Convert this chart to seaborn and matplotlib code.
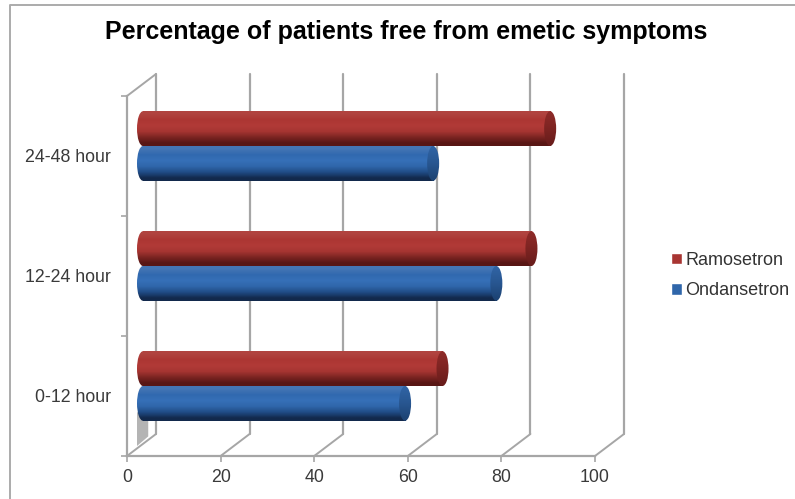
# emetic_bars.py
import numpy as np
import pandas as pd
import matplotlib
matplotlib.use('Agg')
import matplotlib.pyplot as plt
import seaborn as sns
from matplotlib.colors import LinearSegmentedColormap, to_hex
from matplotlib.lines import Line2D
from matplotlib.patches import Ellipse, Polygon
from matplotlib.transforms import ScaledTranslation

periods = ["24-48 hour", "12-24 hour", "0-12 hour"]
ramosetron = [87, 83, 64]
ondansetron = [62, 75.5, 56]
xticks = [0, 20, 40, 60, 80, 100]

df = pd.DataFrame({
    "period": periods * 2,
    "drug": ["Ramosetron"] * 3 + ["Ondansetron"] * 3,
    "pct": ramosetron + ondansetron,
})

sns.set_theme(style="white")
plt.rcParams['font.family'] = ['Liberation Sans', 'DejaVu Sans']

W, H = 795, 499
fig = plt.figure(figsize=(W / 100, H / 100), dpi=100)
ax = fig.add_axes([127 / W, (H - 456) / H, 468 / W, 360 / H])
ax.patch.set_alpha(0)

sns.barplot(data=df, y="period", x="pct", hue="drug", order=periods,
            hue_order=["Ramosetron", "Ondansetron"],
            palette={"Ramosetron": "#a83532", "Ondansetron": "#2f66aa"},
            width=0.58, saturation=1, errorbar=None, ax=ax, zorder=3)
bars = [p for p in ax.patches if p.get_width() > 0]

ax.set_xlim(0, 100)
ax.set_ylim(2.5, -0.5)
ax.set_xlabel("")
ax.set_ylabel("")

def shift(dx, dy):
    return ax.transData + ScaledTranslation(dx / 100, dy / 100, fig.dpi_scale_trans)

line_col = "#a6a6a6"
back = shift(29, 22)
bar_shift = shift(16, 10)

# back wall and floor lines
def depth_line(x, y):
    ax.annotate("", xy=(x, y), xycoords=back, xytext=(x, y), textcoords=ax.transData,
                arrowprops=dict(arrowstyle="-", color=line_col, lw=1.4, shrinkA=0, shrinkB=0),
                zorder=1)

for t in xticks:
    ax.plot([t, t], [2.5, -0.5], color=line_col, lw=1.6, transform=back, clip_on=False, zorder=1)
    depth_line(t, 2.5)
depth_line(0, -0.5)

# grey shadow at the foot of the lowest bar
ax.add_patch(Polygon([(0, 2.22), (2.4, 2.22), (2.4, 2.42), (0, 2.5)], closed=True,
                     facecolor="#b4b4b4", edgecolor="none", transform=shift(10, 10),
                     clip_on=False, zorder=2))

ramp = np.array([0, .2, .4, .6, .8, 1])[:, None]
cmaps = {
    "#a83532": (LinearSegmentedColormap.from_list("r", ["#b0433f", "#ac3633", "#b13a37", "#a63532", "#7c2422", "#581614"]),
                LinearSegmentedColormap.from_list("rc", ["#8c2a28", "#7d2422", "#6a1d1c"])),
    "#2f66aa": (LinearSegmentedColormap.from_list("b", ["#4475b4", "#3169af", "#3670b8", "#2f66aa", "#204c86", "#12294c"]),
                LinearSegmentedColormap.from_list("bc", ["#2f62a2", "#285690", "#1d4475"])),
}

depth = 12 / (468 / 100)  # cap width in x units
for p in bars:
    x1 = p.get_width()
    y0, h = p.get_y(), p.get_height()
    body, cap = cmaps[to_hex(p.get_facecolor())]
    p.set_visible(False)
    left = Ellipse((0, y0 + h / 2), depth, h, transform=bar_shift)
    right = Ellipse((x1, y0 + h / 2), depth, h, transform=bar_shift)
    rect = plt.Rectangle((0, y0), x1, h, transform=bar_shift)
    for shape, cm, zo in [(left, body, 3), (rect, body, 3), (right, cap, 4)]:
        im = ax.imshow(ramp, cmap=cm, aspect="auto", origin="upper", vmin=0, vmax=1,
                       extent=(-depth, x1 + depth, y0 + h, y0),
                       interpolation="bilinear", zorder=zo)
        im.set_transform(bar_shift)
        im.set_clip_path(shape)

ax.set_xlim(0, 100)
ax.set_ylim(2.5, -0.5)

# ticks sit between categories on the y axis
ax.set_xticks(xticks)
ax.set_yticks(range(3), periods)
ax.set_yticks([-0.5, 0.5, 1.5, 2.5], minor=True)
ax.tick_params(axis="y", which="minor", left=True, length=4, width=1.2, color=line_col)
ax.tick_params(axis="y", which="major", left=False, length=0, pad=11.5, labelsize=12.8, labelcolor="#3a3a3a")
ax.tick_params(axis="x", bottom=True, length=4, width=1.2, color=line_col, pad=5.5,
               labelsize=12.8, labelcolor="#3a3a3a")
for side in ["top", "right"]:
    ax.spines[side].set_visible(False)
for side in ["left", "bottom"]:
    ax.spines[side].set_color(line_col)
    ax.spines[side].set_linewidth(1.6)

sns.move_legend(ax, "center left", bbox_to_anchor=(671 / W, (H - 275.5) / H),
                bbox_transform=fig.transFigure, frameon=False, title=None, fontsize=13,
                handlelength=0.62, handleheight=0.62, handletextpad=0.16, labelspacing=0.75,
                borderpad=0, borderaxespad=0, labelcolor="#333333")

fig.text(406.5 / W, (H - 32.5) / H, "Percentage of patients free from emetic symptoms",
         ha="center", va="center", fontsize=18, fontweight="bold", color="black")

# chart area border: only the top and left edges are inside the crop
fig.add_artist(Line2D([9.5 / W, 9.5 / W, 1], [0, (H - 4.5) / H, (H - 4.5) / H],
                      color="#ababab", lw=1.4, transform=fig.transFigure))

fig.savefig("out.png", dpi=100)
plt.close()
